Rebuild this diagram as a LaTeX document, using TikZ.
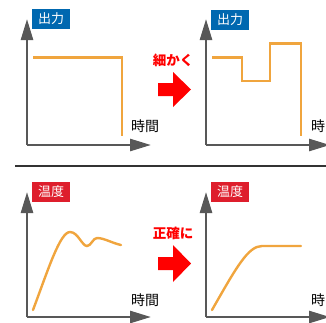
\documentclass[tikz,border=0pt]{standalone}
\usepackage{fontspec}
\newfontfamily\jp{Noto Sans CJK JP}
\usetikzlibrary{arrows.meta}
\usetikzlibrary{positioning}

\definecolor{axisgray}{RGB}{88,88,88}
\definecolor{lineorange}{RGB}{240,165,62}
\definecolor{tagblue}{RGB}{0,104,176}
\definecolor{tagred}{RGB}{222,30,44}

\begin{document}
\begin{tikzpicture}[x=1pt,y=-1pt]
	\useasboundingbox (0,0) rectangle (326,322);
	\tikzstyle{axis}=[draw=axisgray,line width=2.6pt,-{Triangle[length=21pt,width=12pt]}];
	\tikzstyle{curve}=[draw=lineorange,line width=2.4pt,line join=miter];
	\tikzstyle{tag}=[font=\jp\fontsize{13}{13}\selectfont,text=white,minimum width=38pt,minimum height=20pt,inner sep=0pt];
	\tikzstyle{timelbl}=[font=\jp\fontsize{14}{14}\selectfont,inner sep=0pt];
	\tikzstyle{redlbl}=[font=\jp\bfseries\fontsize{13.5}{13.5}\selectfont,text=red,inner sep=0pt];
	% axes
	\coordinate (o1) at (27,145);  \coordinate (y1) at (27,19);  \coordinate (x1) at (151,145);
	\coordinate (o2) at (206,145); \coordinate (y2) at (206,19); \coordinate (x2) at (330,145);
	\coordinate (o3) at (27,317);  \coordinate (y3) at (27,192); \coordinate (x3) at (151,317);
	\coordinate (o4) at (206,317); \coordinate (y4) at (206,192); \coordinate (x4) at (330,317);
	\draw[axis] (o1) -- (y1);
	\draw[axis] (o1) -- (x1);
	\draw[axis] (o2) -- (y2);
	\draw[axis] (o2) -- (x2);
	\draw[axis] (o3) -- (y3);
	\draw[axis] (o3) -- (x3);
	\draw[axis] (o4) -- (y4);
	\draw[axis] (o4) -- (x4);
	% labels
	\path (51,19)   node[tag,fill=tagblue] (out1) {出力};
	\path (230,20)  node[tag,fill=tagblue] (out2) {出力};
	\path (51,192)  node[tag,fill=tagred]  (temp1) {温度};
	\path (230,192) node[tag,fill=tagred]  (temp2) {温度};
	\path (145,126) node[timelbl] (t1) {時間};
	\path (325,126) node[timelbl] (t2) {時間};
	\path (145,300) node[timelbl] (t3) {時間};
	\path (325,300) node[timelbl] (t4) {時間};
	\path (173,60)  node[redlbl] (fine) {細かく};
	\path (173,233) node[redlbl] (exact) {正確に};
	% red arrows
	\fill[red] (158,83) -- (173,83) -- (173,72) -- (191,89.5) -- (173,107) -- (173,96) -- (158,96) -- cycle;
	\fill[red] (158,257) -- (173,257) -- (173,245) -- (191,263.5) -- (173,282) -- (173,270) -- (158,270) -- cycle;
	% separator
	\coordinate (sepL) at (15,166);
	\coordinate (sepR) at (326,166);
	\draw[draw=black!80,line width=2pt] (sepL) -- (sepR);
	% output curves
	\draw[curve] (33,57.5) -- (122,57.5) -- (122,136);
	\draw[curve] (212,57.5) -- (242,57.5) -- (242,81) -- (270,81) -- (270,43.5) -- (301,43.5) -- (301,136);
	% temperature curves
	\draw[curve,line cap=round] (33,310) .. controls (48,270) and (60,232) .. (70,232)
		.. controls (78,232) and (82,246) .. (87,246)
		.. controls (91,246) and (93,238) .. (97,238)
		.. controls (104,238) and (112,243) .. (121,245);
	\draw[curve,line cap=round] (212,310) .. controls (236,268) and (248,246) .. (262,246) -- (301,246);
\end{tikzpicture}
\end{document}
